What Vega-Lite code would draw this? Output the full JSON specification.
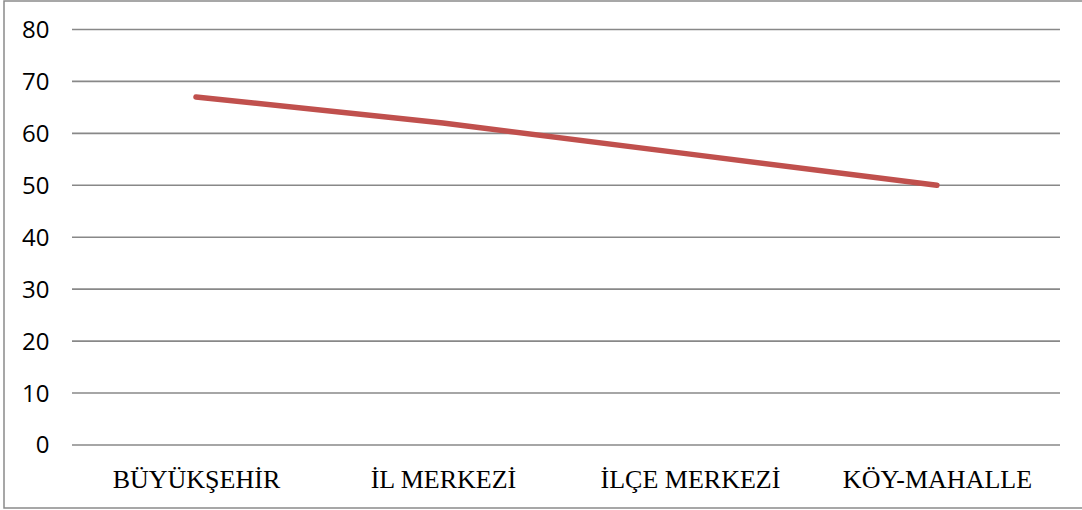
{
  "$schema": "https://vega.github.io/schema/vega-lite/v6.json",
  "width": 1090,
  "height": 507,
  "autosize": {"type": "none"},
  "padding": {"left": 4, "top": 1, "right": 0, "bottom": 2},
  "background": "white",
  "config": {
    "view": {"stroke": "#8a8a8a", "strokeWidth": 1.5},
    "axis": {"grid": false, "domain": false, "ticks": false, "tickSize": 0, "title": null, "labelLimit": 0}
  },
  "layer": [
    {
      "data": {"values": [{"v": 0}, {"v": 10}, {"v": 20}, {"v": 30}, {"v": 40}, {"v": 50}, {"v": 60}, {"v": 70}, {"v": 80}]},
      "mark": {"type": "rule", "color": "#888888", "strokeWidth": 1.6},
      "encoding": {
        "y": {"field": "v", "type": "quantitative", "scale": {"domain": [-12.13, 85.48], "nice": false, "zero": false}, "axis": {"values": [0, 10, 20, 30, 40, 50, 60, 70, 80], "offset": -45, "labelPadding": 0, "labelOffset": 1, "labelFont": "Open Sans", "labelFontSize": 24, "labelColor": "#000000", "labelAlign": "right", "labelBaseline": "middle"}},
        "x": {"datum": 0, "type": "quantitative", "scale": {"domain": [-0.2753, 4.1377], "nice": false, "zero": false}, "axis": null},
        "x2": {"datum": 4}
      }
    },
    {
      "data": {"values": [
        {"yer": "BÜYÜKŞEHİR", "deger": 67},
        {"yer": "İL MERKEZİ", "deger": 62},
        {"yer": "İLÇE MERKEZİ", "deger": 56},
        {"yer": "KÖY-MAHALLE", "deger": 50}
      ]},
      "mark": {"type": "line", "color": "#C0504D", "strokeWidth": 5.5, "strokeCap": "round", "strokeJoin": "round"},
      "encoding": {
        "x": {"field": "yer", "type": "nominal", "sort": null, "scale": {"type": "point", "padding": 0.7065, "align": 0.55}, "axis": {"orient": "bottom", "offset": -63, "labelPadding": 42, "labelBaseline": "alphabetic", "labelAngle": 0, "labelFont": "Liberation Serif", "labelFontSize": 26, "labelColor": "#000000", "labelLimit": 0}},
        "y": {"field": "deger", "type": "quantitative", "scale": {"domain": [-12.13, 85.48], "nice": false, "zero": false}, "axis": {"values": [0, 10, 20, 30, 40, 50, 60, 70, 80], "offset": -45, "labelPadding": 0, "labelOffset": 1, "labelFont": "Open Sans", "labelFontSize": 24, "labelColor": "#000000", "labelAlign": "right", "labelBaseline": "middle"}}
      }
    }
  ],
  "resolve": {"scale": {"x": "independent", "y": "shared"}, "axis": {"x": "independent"}}
}
